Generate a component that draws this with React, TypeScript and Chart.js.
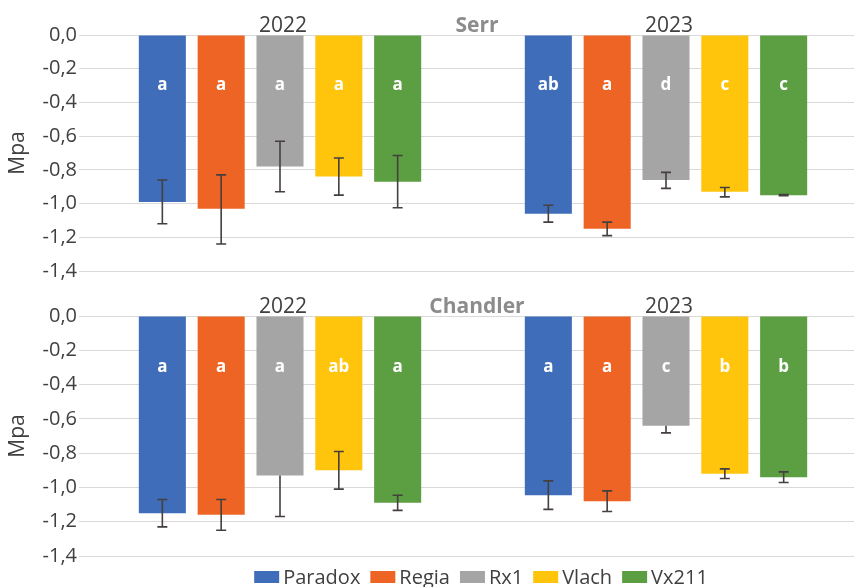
import React, { useEffect, useRef } from 'react';
import { Chart, registerables } from 'chart.js';

Chart.register(...registerables);

const YEARS = ['2022', '2023'];
const CULTIVARS = ['Paradox', 'Regia', 'Rx1', 'Vlach', 'Vx211'];
const COLORS = ['#3F6DB9', '#EE6424', '#A5A5A5', '#FFC40C', '#5C9E42'];
const Y_TICKS_STEP = 0.2;

// Serr: mean stem water potential (MPa) per cultivar
const SERR_2022 = [-0.99, -1.03, -0.78, -0.84, -0.87];
const SERR_2023 = [-1.06, -1.15, -0.86, -0.93, -0.95];
const SERR_ERR_UP_2022 = [0.13, 0.2, 0.15, 0.11, 0.155];
const SERR_ERR_DOWN_2022 = [0.13, 0.21, 0.15, 0.11, 0.155];
const SERR_ERR_UP_2023 = [0.05, 0.04, 0.045, 0.025, 0.004];
const SERR_ERR_DOWN_2023 = [0.05, 0.04, 0.05, 0.03, 0.004];
const SERR_LETTERS_2022 = ['a', 'a', 'a', 'a', 'a'];
const SERR_LETTERS_2023 = ['ab', 'a', 'd', 'c', 'c'];

// Chandler: mean stem water potential (MPa) per cultivar
const CHANDLER_2022 = [-1.15, -1.16, -0.93, -0.9, -1.09];
const CHANDLER_2023 = [-1.045, -1.08, -0.64, -0.92, -0.94];
const CHANDLER_ERR_UP_2022 = [0.08, 0.09, 0, 0.11, 0.044];
const CHANDLER_ERR_DOWN_2022 = [0.08, 0.09, 0.24, 0.11, 0.044];
const CHANDLER_ERR_UP_2023 = [0.083, 0.06, 0, 0.028, 0.031];
const CHANDLER_ERR_DOWN_2023 = [0.083, 0.06, 0.042, 0.028, 0.031];
const CHANDLER_LETTERS_2022 = ['a', 'a', 'a', 'ab', 'a'];
const CHANDLER_LETTERS_2023 = ['a', 'a', 'c', 'b', 'b'];

const FONT = '"Open Sans", "Noto Sans", sans-serif';
const LETTER_LEVEL = -0.3;

type Panel = {
  title: string;
  means: number[][]; // [year][cultivar]
  errUp: number[][];
  errDown: number[][];
  letters: string[][];
  padTop: number;
  padBottom: number;
  legend: boolean;
};

const PANELS: Panel[] = [
  {
    title: 'Serr',
    means: [SERR_2022, SERR_2023],
    errUp: [SERR_ERR_UP_2022, SERR_ERR_UP_2023],
    errDown: [SERR_ERR_DOWN_2022, SERR_ERR_DOWN_2023],
    letters: [SERR_LETTERS_2022, SERR_LETTERS_2023],
    padTop: 35,
    padBottom: 12,
    legend: false,
  },
  {
    title: 'Chandler',
    means: [CHANDLER_2022, CHANDLER_2023],
    errUp: [CHANDLER_ERR_UP_2022, CHANDLER_ERR_UP_2023],
    errDown: [CHANDLER_ERR_DOWN_2022, CHANDLER_ERR_DOWN_2023],
    letters: [CHANDLER_LETTERS_2022, CHANDLER_LETTERS_2023],
    padTop: 31,
    padBottom: 31,
    legend: true,
  },
];

function overlayPlugin(p: Panel) {
  return {
    id: 'panelOverlay',
    afterDatasetsDraw(chart: any) {
      const ctx: CanvasRenderingContext2D = chart.ctx;
      const ys = chart.scales.y;
      const xs = chart.scales.x;
      const area = chart.chartArea;
      ctx.save();

      // error bars
      ctx.strokeStyle = '#463f3f';
      ctx.lineWidth = 1.6;
      const cap = 5;
      chart.data.datasets.forEach((ds: any, di: number) => {
        const meta = chart.getDatasetMeta(di);
        meta.data.forEach((bar: any, yi: number) => {
          const v = ds.data[yi];
          const up = p.errUp[yi][di];
          const down = p.errDown[yi][di];
          const top = ys.getPixelForValue(v + up);
          const bot = ys.getPixelForValue(v - down);
          ctx.beginPath();
          ctx.moveTo(bar.x, top);
          ctx.lineTo(bar.x, bot);
          if (up > 0) {
            ctx.moveTo(bar.x - cap, top);
            ctx.lineTo(bar.x + cap, top);
          }
          ctx.moveTo(bar.x - cap, bot);
          ctx.lineTo(bar.x + cap, bot);
          ctx.stroke();
        });
      });

      // significance letters
      ctx.fillStyle = '#ffffff';
      ctx.font = `bold 17px ${FONT}`;
      ctx.textAlign = 'center';
      ctx.textBaseline = 'middle';
      const ly = ys.getPixelForValue(LETTER_LEVEL);
      chart.data.datasets.forEach((_ds: any, di: number) => {
        const meta = chart.getDatasetMeta(di);
        meta.data.forEach((bar: any, yi: number) => {
          ctx.fillText(p.letters[yi][di], bar.x, ly);
        });
      });

      // year labels above each group
      ctx.textBaseline = 'alphabetic';
      ctx.fillStyle = '#404040';
      ctx.font = `21px ${FONT}`;
      YEARS.forEach((yr, i) => {
        ctx.fillText(yr, xs.getPixelForValue(i) + 3, area.top - 3);
      });

      // panel title
      ctx.fillStyle = '#8c8c8c';
      ctx.font = `bold 21px ${FONT}`;
      ctx.fillText(p.title, (area.left + area.right) / 2 + 4, area.top - 3);

      // legend
      if (p.legend) {
        ctx.font = `20px ${FONT}`;
        ctx.textAlign = 'left';
        const box = 25;
        const boxGap = 4;
        const itemGap = 10;
        const widths = CULTIVARS.map((c) => ctx.measureText(c).width);
        const total =
          widths.reduce((a, w) => a + box + boxGap + w, 0) + itemGap * (CULTIVARS.length - 1);
        let x = 481 - total / 2;
        const base = chart.height - 3;
        CULTIVARS.forEach((c, i) => {
          ctx.fillStyle = COLORS[i];
          ctx.fillRect(x, base - 13, box, 12);
          ctx.fillStyle = '#404040';
          ctx.fillText(c, x + box + boxGap, base);
          x += box + boxGap + widths[i] + itemGap;
        });
      }
      ctx.restore();
    },
  };
}

function PanelChart({ panel, height }: { panel: Panel; height: number }) {
  const ref = useRef<HTMLCanvasElement | null>(null);
  useEffect(() => {
    if (!ref.current) return;
    const chart = new Chart(ref.current, {
      type: 'bar',
      data: {
        labels: YEARS,
        datasets: CULTIVARS.map((c, i) => ({
          label: c,
          data: panel.means.map((row) => row[i]),
          backgroundColor: COLORS[i],
          borderWidth: 0,
          categoryPercentage: 0.762,
          barPercentage: 0.8,
        })),
      },
      options: {
        responsive: false,
        animation: false,
        layout: { padding: { top: panel.padTop, bottom: panel.padBottom, left: 0, right: 0 } },
        plugins: { legend: { display: false }, tooltip: { enabled: false } },
        scales: {
          x: { display: false },
          y: {
            min: -1.4,
            max: 0,
            ticks: {
              stepSize: Y_TICKS_STEP,
              color: '#404040',
              padding: 2,
              font: { family: FONT, size: 20 },
              callback: (v: any) => {
                const s = Number(v).toFixed(1).replace('.', ',');
                return s === '-0,0' ? '0,0' : s;
              },
            },
            grid: { color: '#d9d9d9', lineWidth: 1, tickLength: 8, drawTicks: true },
            border: { display: false },
            title: {
              display: true,
              text: 'Mpa',
              color: '#404040',
              font: { family: FONT, size: 21 },
              padding: { top: 5, bottom: 0 },
            },
            afterFit: (s: any) => {
              s.width = 87;
            },
          },
        },
      } as any,
      plugins: [overlayPlugin(panel)],
    });
    return () => chart.destroy();
  }, [panel]);
  return <canvas ref={ref} width={859} height={height} style={{ display: 'block' }} />;
}

export default function App() {
  return (
    <div
      style={{
        position: 'fixed',
        left: 0,
        top: 0,
        width: 854,
        height: 587,
        overflow: 'hidden',
        background: '#ffffff',
      }}
    >
      <div style={{ position: 'absolute', left: 0, top: 0 }}>
        <PanelChart panel={PANELS[0]} height={285} />
      </div>
      <div style={{ position: 'absolute', left: 0, top: 285 }}>
        <PanelChart panel={PANELS[1]} height={302} />
      </div>
    </div>
  );
}
